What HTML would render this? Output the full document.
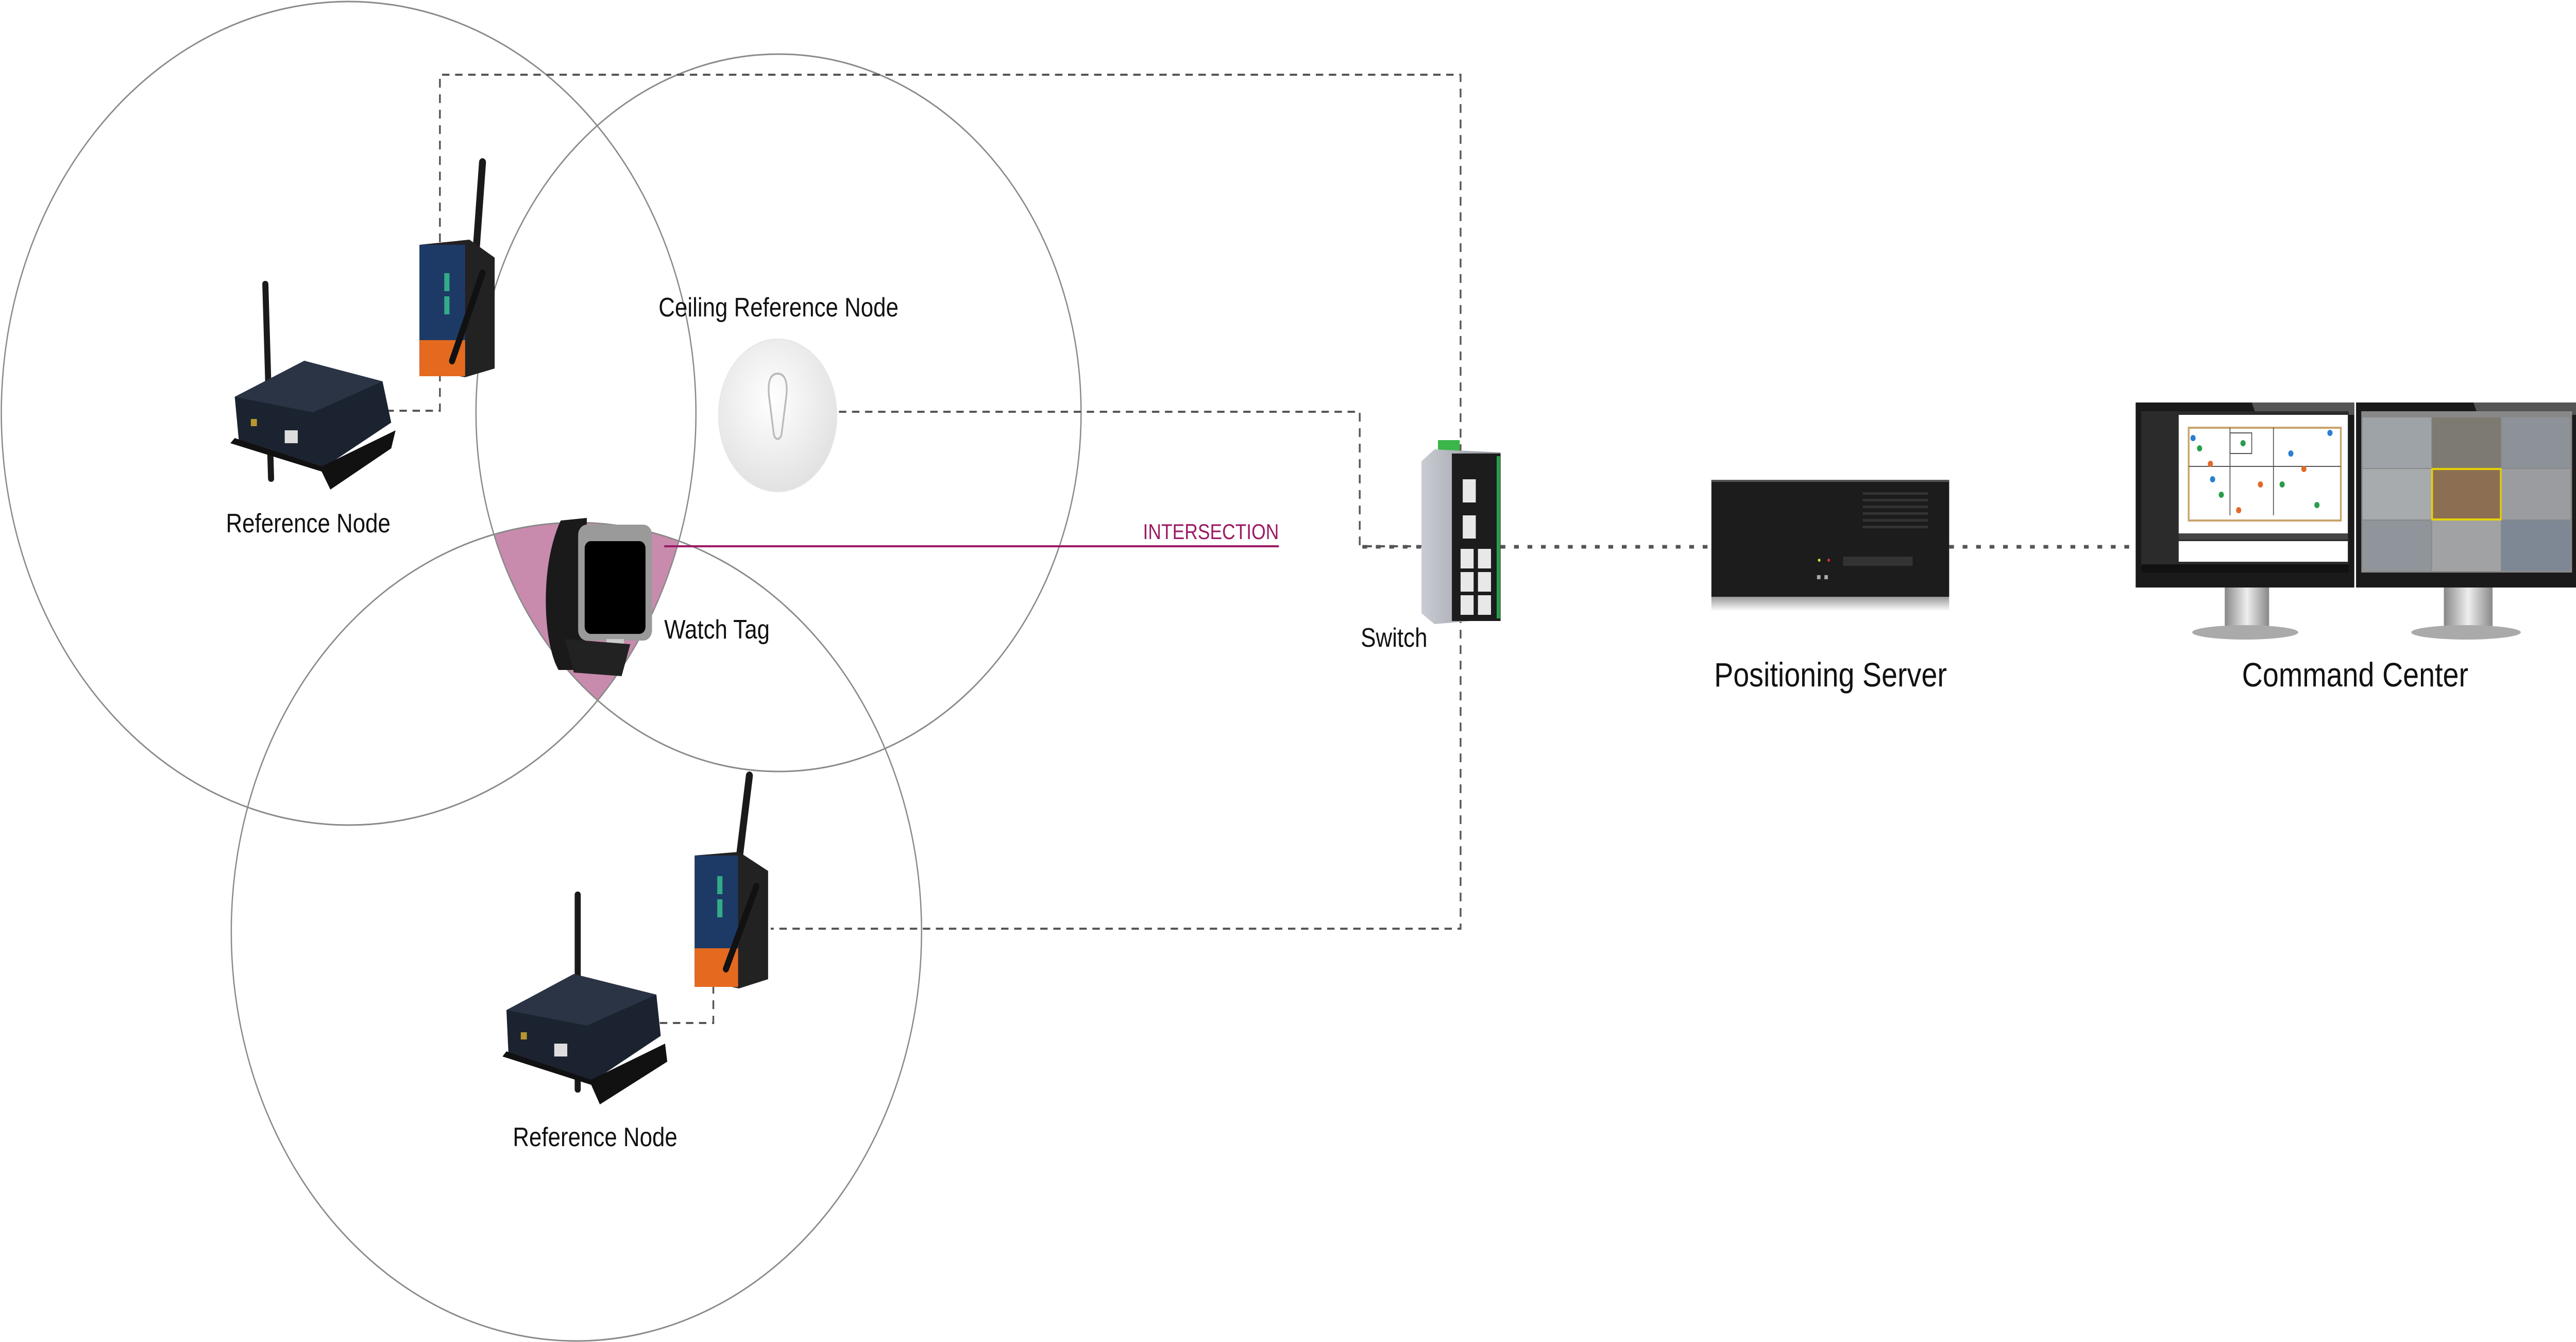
<!DOCTYPE html>
<html><head><meta charset="utf-8"><style>
html,body{margin:0;padding:0;background:#fff;width:100%;height:100%;overflow:hidden}
svg{display:block;width:100vw;height:100vh;overflow:hidden}
text{font-family:"Liberation Sans",sans-serif;fill:#111}
</style></head><body>
<svg viewBox="0 0 5926 2604" preserveAspectRatio="none" xmlns="http://www.w3.org/2000/svg">
<defs>
<clipPath id="c1"><circle cx="802" cy="802" r="799"/></clipPath>
<clipPath id="c2"><circle cx="1791" cy="801" r="696"/></clipPath>
<clipPath id="c3"><circle cx="1326" cy="1808" r="794"/></clipPath>
<linearGradient id="alu" x1="0" x2="1"><stop offset="0" stop-color="#c9ccd2"/><stop offset="1" stop-color="#8c9098"/></linearGradient>
<linearGradient id="stand" x1="0" x2="1"><stop offset="0" stop-color="#888"/><stop offset=".5" stop-color="#eee"/><stop offset="1" stop-color="#888"/></linearGradient>
<radialGradient id="ceil" cx=".45" cy=".4" r=".6"><stop offset="0" stop-color="#fff"/><stop offset="1" stop-color="#e2e2e2"/></radialGradient>
<linearGradient id="refl" x1="0" y1="0" x2="0" y2="1"><stop offset="0" stop-color="#999"/><stop offset="1" stop-color="#fff"/></linearGradient>
</defs>

<g clip-path="url(#c1)"><g clip-path="url(#c2)"><g clip-path="url(#c3)">
<rect x="0" y="0" width="5926" height="2604" fill="#c98bad"/></g></g></g>

<g fill="none" stroke="#8a8a8a" stroke-width="3">
<circle cx="802" cy="802" r="799"/>
<circle cx="1791" cy="801" r="696"/>
<circle cx="1326" cy="1808" r="794"/>
</g>

<g fill="none" stroke="#555" stroke-width="4" stroke-dasharray="17 13">
<polyline points="889,797 1012,797 1012,145 3360,145 3360,1802 1773,1802"/>
<polyline points="1930,799 3128,799 3128,1060 3270,1060"/>
<polyline points="1518,1985 1641,1985 1641,1910"/>
</g>
<g fill="none" stroke="#555" stroke-width="7" stroke-dasharray="11 20">
<line x1="3134" y1="1061" x2="3270" y2="1061"/>
<line x1="3452" y1="1061" x2="3937" y2="1061"/>
<line x1="4484" y1="1061" x2="4913" y2="1061"/>
</g>

<line x1="1528" y1="1060" x2="2942" y2="1060" stroke="#9b1a64" stroke-width="4"/>
<text x="2942" y="1046" font-size="42" text-anchor="end" style="fill:#9b1a64">INTERSECTION</text>

<g>
<rect x="610" y="545" width="14" height="390" rx="6" fill="#1a1a1a" transform="rotate(-2 617 740)"/>
<polygon points="540,770 700,700 880,740 900,820 740,910 550,860" fill="#1b2330"/>
<polygon points="540,770 700,700 880,740 720,800" fill="#2a3444"/>
<polygon points="530,860 740,915 760,950 900,870 910,835 740,905 540,850" fill="#111"/>
<rect x="655" y="835" width="30" height="25" fill="#ddd"/>
<rect x="577" y="813" width="14" height="14" fill="#b8962e"/>
</g>
<g>
<line x1="1095" y1="490" x2="1110" y2="315" stroke="#1a1a1a" stroke-width="16" stroke-linecap="round"/>
<polygon points="965,475 1080,465 1138,500 1138,715 1070,732 965,715" fill="#222"/>
<rect x="965" y="475" width="105" height="255" fill="#1d3a66"/>
<rect x="965" y="660" width="105" height="70" fill="#e46a1f"/>
<rect x="1022" y="530" width="12" height="35" fill="#3a8"/>
<rect x="1022" y="575" width="12" height="35" fill="#3a8"/>
<line x1="1040" y1="700" x2="1110" y2="530" stroke="#111" stroke-width="14" stroke-linecap="round"/>
</g>
<g>
<line x1="1700" y1="1670" x2="1724" y2="1505" stroke="#1a1a1a" stroke-width="16" stroke-linecap="round"/>
<polygon points="1598,1660 1700,1653 1767,1690 1767,1900 1700,1918 1598,1900" fill="#222"/>
<rect x="1598" y="1660" width="100" height="255" fill="#1d3a66"/>
<rect x="1598" y="1840" width="100" height="75" fill="#e46a1f"/>
<rect x="1650" y="1700" width="12" height="35" fill="#3a8"/>
<rect x="1650" y="1745" width="12" height="35" fill="#3a8"/>
<line x1="1670" y1="1880" x2="1740" y2="1720" stroke="#111" stroke-width="14" stroke-linecap="round"/>
</g>
<g>
<rect x="1322" y="1730" width="14" height="390" rx="6" fill="#1a1a1a"/>
<polygon points="1165,1960 1320,1890 1510,1930 1520,2010 1360,2100 1170,2050" fill="#1b2330"/>
<polygon points="1165,1960 1320,1890 1510,1930 1350,1990" fill="#2a3444"/>
<polygon points="1156,2050 1360,2105 1380,2143 1535,2060 1530,2025 1360,2095 1165,2040" fill="#111"/>
<rect x="1275" y="2025" width="30" height="25" fill="#ddd"/>
<rect x="1198" y="2003" width="14" height="14" fill="#b8962e"/>
</g>

<ellipse cx="1789" cy="806" rx="136" ry="148" fill="url(#ceil)" stroke="#e6e6e6" stroke-width="2"/>
<path d="M1789,725 C1770,725 1765,745 1770,775 L1780,842 C1783,855 1795,855 1798,842 L1808,775 C1813,745 1808,725 1789,725 Z" fill="none" stroke="#bbb" stroke-width="4"/>

<g>
<path d="M1290,1010 L1350,1005 L1345,1300 L1285,1300 C1250,1250 1240,1100 1290,1010 Z" fill="#1a1a1a"/>
<rect x="1330" y="1018" width="170" height="225" rx="20" fill="#9a9a9a"/>
<rect x="1345" y="1050" width="140" height="180" rx="14" fill="#000"/>
<rect x="1395" y="1240" width="40" height="20" fill="#ccc"/>
<path d="M1300,1240 L1450,1250 L1430,1312 L1320,1305 Z" fill="#222"/>
</g>

<g>
<rect x="3308" y="854" width="50" height="30" fill="#3cb54a"/>
<polygon points="3270,895 3300,872 3452,878 3452,1200 3300,1211 3270,1190" fill="url(#alu)"/>
<rect x="3340" y="880" width="112" height="325" fill="#1c1c1c"/>
<rect x="3443" y="885" width="8" height="315" fill="#2a9d4a"/>
<g fill="#e8e8e8">
<rect x="3365" y="930" width="30" height="45"/>
<rect x="3365" y="1000" width="30" height="45"/>
<rect x="3360" y="1065" width="30" height="38"/><rect x="3400" y="1065" width="30" height="38"/>
<rect x="3360" y="1110" width="30" height="38"/><rect x="3400" y="1110" width="30" height="38"/>
<rect x="3360" y="1155" width="30" height="38"/><rect x="3400" y="1155" width="30" height="38"/>
</g>
</g>

<rect x="3937" y="931" width="547" height="227" fill="#1c1c1c"/>
<rect x="3937" y="931" width="547" height="4" fill="#555"/>
<rect x="3937" y="1158" width="547" height="28" fill="url(#refl)"/>
<g fill="#333"><rect x="4285" y="955" width="150" height="5"/><rect x="4285" y="968" width="150" height="5"/><rect x="4285" y="981" width="150" height="5"/><rect x="4285" y="994" width="150" height="5"/><rect x="4285" y="1007" width="150" height="5"/><rect x="4285" y="1020" width="150" height="5"/></g>
<rect x="4240" y="1080" width="160" height="18" fill="#333"/>
<circle cx="4185" cy="1087" r="3" fill="#dd3"/><circle cx="4207" cy="1087" r="3" fill="#d33"/>
<rect x="4180" y="1116" width="8" height="8" fill="#aaa"/><rect x="4197" y="1116" width="8" height="8" fill="#aaa"/>

<g>
<rect x="5118" y="1140" width="102" height="80" fill="url(#stand)"/>
<ellipse cx="5165" cy="1227" rx="122" ry="14" fill="#aaa"/>
<rect x="5622" y="1140" width="112" height="80" fill="url(#stand)"/>
<ellipse cx="5673" cy="1227" rx="126" ry="14" fill="#aaa"/>
<rect x="4913" y="781" width="503" height="359" fill="#1a1a1a"/>
<rect x="5420" y="781" width="506" height="359" fill="#1a1a1a"/>
<polygon points="5180,781 5416,781 5416,805 5190,805" fill="#555"/>
<polygon points="5690,781 5926,781 5926,805 5700,805" fill="#555"/>
<rect x="4926" y="798" width="477" height="313" fill="#2b2b2b"/>
<rect x="5012" y="805" width="389" height="230" fill="#fff"/>
<rect x="5035" y="830" width="350" height="180" fill="none" stroke="#c9a36a" stroke-width="4"/>
<g stroke="#555" stroke-width="2" fill="none"><line x1="5130" y1="830" x2="5130" y2="1000"/><line x1="5230" y1="830" x2="5230" y2="1000"/><line x1="5035" y1="905" x2="5385" y2="905"/><rect x="5130" y="840" width="50" height="40"/></g>
<g fill="#2a9d4a"><circle cx="5060" cy="870" r="6"/><circle cx="5160" cy="860" r="6"/><circle cx="5250" cy="940" r="6"/><circle cx="5110" cy="960" r="6"/><circle cx="5330" cy="980" r="6"/></g>
<g fill="#e06a2a"><circle cx="5085" cy="900" r="6"/><circle cx="5200" cy="940" r="6"/><circle cx="5300" cy="910" r="6"/><circle cx="5150" cy="990" r="6"/></g>
<g fill="#2a7fd0"><circle cx="5045" cy="850" r="6"/><circle cx="5270" cy="880" r="6"/><circle cx="5360" cy="840" r="6"/><circle cx="5090" cy="930" r="6"/></g>
<rect x="5012" y="1035" width="389" height="12" fill="#444"/>
<rect x="5012" y="1050" width="389" height="40" fill="#fff"/>
<rect x="4926" y="1095" width="477" height="16" fill="#111"/>
<rect x="5432" y="798" width="485" height="313" fill="#888"/>
<g>
<rect x="5435" y="810" width="158" height="98" fill="#9ea3a8"/><rect x="5595" y="810" width="158" height="98" fill="#7d7a72"/><rect x="5755" y="810" width="158" height="98" fill="#8d9299"/>
<rect x="5435" y="910" width="158" height="98" fill="#a8abad"/><rect x="5595" y="910" width="158" height="98" fill="#8c6f52" stroke="#e5d200" stroke-width="4"/><rect x="5755" y="910" width="158" height="98" fill="#9a9c9f"/>
<rect x="5435" y="1010" width="158" height="98" fill="#8f959a"/><rect x="5595" y="1010" width="158" height="98" fill="#a0a2a4"/><rect x="5755" y="1010" width="158" height="98" fill="#7e8894"/>
</g>
</g>

<text x="1791" y="614" font-size="52" text-anchor="middle">Ceiling Reference Node</text>
<text x="709" y="1033" font-size="52" text-anchor="middle">Reference Node</text>
<text x="1528" y="1239" font-size="52">Watch Tag</text>
<text x="3207" y="1255" font-size="52" text-anchor="middle">Switch</text>
<text x="1369" y="2224" font-size="52" text-anchor="middle">Reference Node</text>
<text x="4211" y="1332" font-size="66" text-anchor="middle">Positioning Server</text>
<text x="5418" y="1332" font-size="66" text-anchor="middle">Command Center</text>
</svg>
</body></html>
